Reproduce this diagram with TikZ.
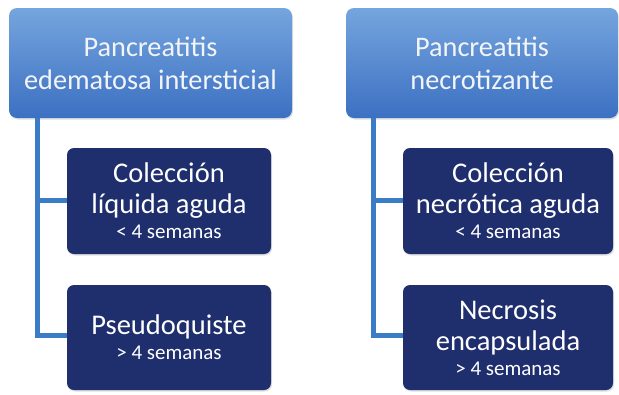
\documentclass[tikz,border=0pt]{standalone}
\usepackage{fontspec}
\setmainfont{Carlito}
\usetikzlibrary{shadows}
\definecolor{topA}{HTML}{75A5DE}
\definecolor{topB}{HTML}{3C70C2}
\definecolor{navy}{HTML}{1F2F6E}
\definecolor{conn}{HTML}{3A7CC6}
\definecolor{titletxt}{HTML}{F2F4F8}
\tikzset{
  topbox/.style={rounded corners=8pt, top color=topA, bottom color=topB,
    drop shadow={shadow xshift=1pt, shadow yshift=-1.5pt, opacity=0.25},
    text=titletxt, align=center, inner sep=0pt,
    font=\fontsize{28.3}{33}\selectfont},
  childbox/.style={rounded corners=7pt, fill=navy,
    drop shadow={shadow xshift=1pt, shadow yshift=-1.5pt, opacity=0.25},
    text=white, align=center, inner sep=0pt,
    font=\fontsize{28.5}{31}\selectfont},
  connline/.style={draw=conn, line width=5pt}
}
\newcommand{\smtxt}[1]{{\fontsize{21}{22}\selectfont #1}}
\begin{document}
\begin{tikzpicture}[x=1pt,y=-1pt]
\useasboundingbox (0,0) rectangle (619,394);
\fill[white] (0,0) rectangle (619,394);
\coordinate (lv) at (37,118);
\coordinate (rv) at (373,118);
\node[topbox, minimum width=283pt, minimum height=110pt] (tl) at (150.5,63)
  {Pancreatitis\\edematosa intersticial};
\node[topbox, minimum width=272pt, minimum height=110pt] (tr) at (482,63)
  {Pancreatitis\\necrotizante};
\coordinate (lb1) at (37,200);
\coordinate (lb2) at (37,335);
\coordinate (rb1) at (373,200);
\coordinate (rb2) at (373,335);
\draw[connline] (lv) -- (lb2) -- (69,335);
\draw[connline] (lb1) -- (69,200);
\draw[connline] (rv) -- (rb2) -- (405,335);
\draw[connline] (rb1) -- (405,200);
\node[childbox, minimum width=204pt, minimum height=106pt] (c1) at (169,201)
  {Colección\\líquida aguda\\[-6pt]\smtxt{<~4 semanas}};
\node[childbox, minimum width=204pt, minimum height=105pt] (c2) at (169,337.5)
  {Pseudoquiste\\[-6pt]\smtxt{>~4 semanas}};
\node[childbox, minimum width=210pt, minimum height=106pt] (c3) at (508,201)
  {Colección\\necrótica aguda\\[-6pt]\smtxt{<~4 semanas}};
\node[childbox, minimum width=210pt, minimum height=105pt] (c4) at (508,337.5)
  {Necrosis\\encapsulada\\[-6pt]\smtxt{>~4 semanas}};
\end{tikzpicture}
\end{document}
